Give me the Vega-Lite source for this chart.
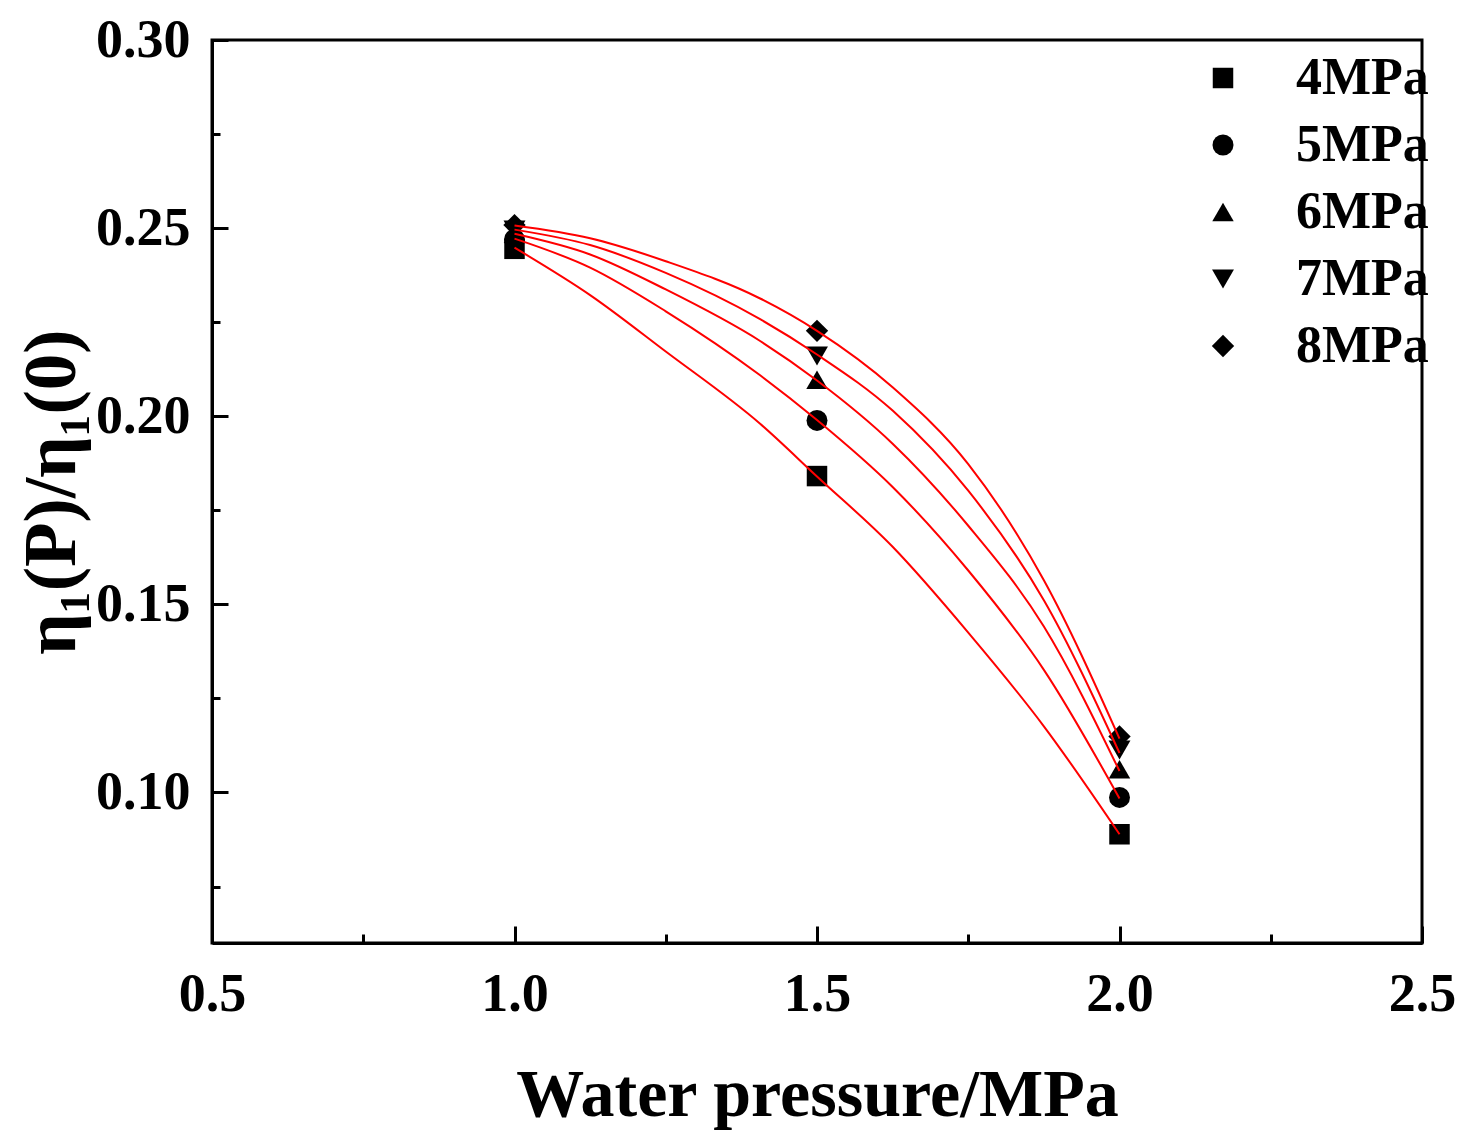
{
  "$schema": "https://vega.github.io/schema/vega-lite/v6.json",
  "autosize": {"type": "none"},
  "padding": {"left": 212, "top": 40, "right": 53, "bottom": 202},
  "width": 1210,
  "height": 903,
  "background": "white",
  "datasets": {
    "pts": [
      {"s": "4MPa", "p": 1.0, "r": 0.2445},
      {"s": "4MPa", "p": 1.5, "r": 0.1841},
      {"s": "4MPa", "p": 2.0, "r": 0.0889},
      {"s": "5MPa", "p": 1.0, "r": 0.2470},
      {"s": "5MPa", "p": 1.5, "r": 0.1989},
      {"s": "5MPa", "p": 2.0, "r": 0.0987},
      {"s": "6MPa", "p": 1.0, "r": 0.2485},
      {"s": "6MPa", "p": 1.5, "r": 0.2097},
      {"s": "6MPa", "p": 2.0, "r": 0.1062},
      {"s": "7MPa", "p": 1.0, "r": 0.2495},
      {"s": "7MPa", "p": 1.5, "r": 0.2160},
      {"s": "7MPa", "p": 2.0, "r": 0.1113},
      {"s": "8MPa", "p": 1.0, "r": 0.2508},
      {"s": "8MPa", "p": 1.5, "r": 0.2227},
      {"s": "8MPa", "p": 2.0, "r": 0.1149}
    ],
    "fit": [
      {"s": "4MPa", "p": 1.0, "r": 0.2448},
      {"s": "4MPa", "p": 1.125, "r": 0.2322},
      {"s": "4MPa", "p": 1.25, "r": 0.2172},
      {"s": "4MPa", "p": 1.406, "r": 0.1980},
      {"s": "4MPa", "p": 1.5, "r": 0.1840},
      {"s": "4MPa", "p": 1.625, "r": 0.1653},
      {"s": "4MPa", "p": 1.75, "r": 0.1425},
      {"s": "4MPa", "p": 1.875, "r": 0.1176},
      {"s": "4MPa", "p": 2.0, "r": 0.0889},
      {"s": "5MPa", "p": 1.0, "r": 0.2472},
      {"s": "5MPa", "p": 1.125, "r": 0.2395},
      {"s": "5MPa", "p": 1.25, "r": 0.2279},
      {"s": "5MPa", "p": 1.406, "r": 0.2109},
      {"s": "5MPa", "p": 1.5, "r": 0.1990},
      {"s": "5MPa", "p": 1.625, "r": 0.1812},
      {"s": "5MPa", "p": 1.75, "r": 0.1590},
      {"s": "5MPa", "p": 1.875, "r": 0.1326},
      {"s": "5MPa", "p": 2.0, "r": 0.0984},
      {"s": "6MPa", "p": 1.0, "r": 0.2485},
      {"s": "6MPa", "p": 1.125, "r": 0.2430},
      {"s": "6MPa", "p": 1.25, "r": 0.2337},
      {"s": "6MPa", "p": 1.406, "r": 0.2200},
      {"s": "6MPa", "p": 1.5, "r": 0.2095},
      {"s": "6MPa", "p": 1.625, "r": 0.1927},
      {"s": "6MPa", "p": 1.75, "r": 0.1709},
      {"s": "6MPa", "p": 1.875, "r": 0.1441},
      {"s": "6MPa", "p": 2.0, "r": 0.1057},
      {"s": "7MPa", "p": 1.0, "r": 0.2496},
      {"s": "7MPa", "p": 1.125, "r": 0.2455},
      {"s": "7MPa", "p": 1.25, "r": 0.2381},
      {"s": "7MPa", "p": 1.406, "r": 0.2258},
      {"s": "7MPa", "p": 1.5, "r": 0.2164},
      {"s": "7MPa", "p": 1.625, "r": 0.2015},
      {"s": "7MPa", "p": 1.75, "r": 0.1802},
      {"s": "7MPa", "p": 1.875, "r": 0.1511},
      {"s": "7MPa", "p": 2.0, "r": 0.1105},
      {"s": "8MPa", "p": 1.0, "r": 0.2507},
      {"s": "8MPa", "p": 1.125, "r": 0.2473},
      {"s": "8MPa", "p": 1.25, "r": 0.2412},
      {"s": "8MPa", "p": 1.406, "r": 0.2313},
      {"s": "8MPa", "p": 1.5, "r": 0.2227},
      {"s": "8MPa", "p": 1.625, "r": 0.2077},
      {"s": "8MPa", "p": 1.75, "r": 0.1873},
      {"s": "8MPa", "p": 1.875, "r": 0.1564},
      {"s": "8MPa", "p": 2.0, "r": 0.1143}
    ]
  },
  "layer": [
    {
      "data": {"name": "pts"},
      "mark": {"type": "point", "filled": true, "opacity": 1, "color": "black"},
      "encoding": {
        "x": {
          "field": "p", "type": "quantitative",
          "scale": {"domain": [0.5, 2.5], "nice": false, "zero": false},
          "axis": {
            "orient": "bottom", "title": "Water pressure/MPa",
            "values": [0.5, 1.0, 1.5, 2.0, 2.5], "format": ".1f", "labelFlush": false,
            "ticks": false, "labelPadding": 24, "titlePadding": 40, "titleFontSize": 68
          }
        },
        "y": {
          "field": "r", "type": "quantitative",
          "scale": {"domain": [0.06, 0.30], "nice": false, "zero": false},
          "axis": {
            "orient": "left", "title": "η₁(P)/η₁(0)",
            "values": [0.10, 0.15, 0.20, 0.25, 0.30], "format": ".2f", "labelFlush": false,
            "ticks": false, "labelPadding": 22, "titlePadding": 6, "titleFontSize": 73
          }
        },
        "shape": {
          "field": "s", "type": "nominal",
          "scale": {
            "domain": ["4MPa", "5MPa", "6MPa", "7MPa", "8MPa"],
            "range": ["square", "circle", "triangle-up", "triangle-down", "diamond"]
          },
          "legend": {
            "orient": "none", "legendX": 985, "legendY": 12, "title": null,
            "labelFont": "Liberation Serif", "labelFontSize": 52, "labelFontWeight": "bold",
            "labelColor": "black", "symbolFillColor": "black",
            "symbolStrokeColor": "black", "symbolStrokeWidth": 0, "rowPadding": 15,
            "labelOffset": 47
          }
        },
        "size": {
          "field": "s", "type": "nominal",
          "scale": {
            "domain": ["4MPa", "5MPa", "6MPa", "7MPa", "8MPa"],
            "range": [420, 500, 680, 680, 760]
          },
          "legend": {
            "orient": "none", "legendX": 985, "legendY": 12, "title": null,
            "labelFont": "Liberation Serif", "labelFontSize": 52, "labelFontWeight": "bold",
            "labelColor": "black", "symbolFillColor": "black",
            "symbolStrokeColor": "black", "symbolStrokeWidth": 0, "rowPadding": 15,
            "labelOffset": 47
          }
        }
      }
    },
    {
      "data": {"name": "fit"},
      "mark": {"type": "line", "color": "#ff0000", "strokeWidth": 2, "interpolate": "monotone"},
      "encoding": {
        "x": {
          "field": "p", "type": "quantitative",
          "axis": {
            "orient": "bottom", "title": null, "labels": false, "domain": false,
            "values": [0.5, 1.0, 1.5, 2.0, 2.5], "tickSize": -17
          }
        },
        "y": {
          "field": "r", "type": "quantitative",
          "axis": {
            "orient": "left", "title": null, "labels": false, "domain": false,
            "values": [0.10, 0.15, 0.20, 0.25, 0.30], "tickSize": -16
          }
        },
        "detail": {"field": "s", "type": "nominal"}
      }
    },
    {
      "data": {"name": "pts"},
      "mark": {"type": "point", "opacity": 0},
      "encoding": {
        "x": {
          "field": "p", "type": "quantitative",
          "axis": {
            "orient": "bottom", "title": null, "labels": false, "domain": false,
            "values": [0.75, 1.25, 1.75, 2.25], "tickSize": -9
          }
        },
        "y": {
          "field": "r", "type": "quantitative",
          "axis": {
            "orient": "left", "title": null, "labels": false, "domain": false,
            "values": [0.075, 0.125, 0.175, 0.225, 0.275], "tickSize": -8
          }
        }
      }
    }
  ],
  "resolve": {"axis": {"x": "independent", "y": "independent"}},
  "config": {
    "view": {"stroke": "black", "strokeWidth": 3},
    "axis": {
      "grid": false,
      "labelFont": "Liberation Serif", "labelFontWeight": "bold", "labelFontSize": 54, "labelColor": "black",
      "titleFont": "Liberation Serif", "titleFontWeight": "bold", "titleFontSize": 68, "titleColor": "black",
      "domainColor": "black", "domainWidth": 3, "tickColor": "black", "tickWidth": 3
    }
  }
}
